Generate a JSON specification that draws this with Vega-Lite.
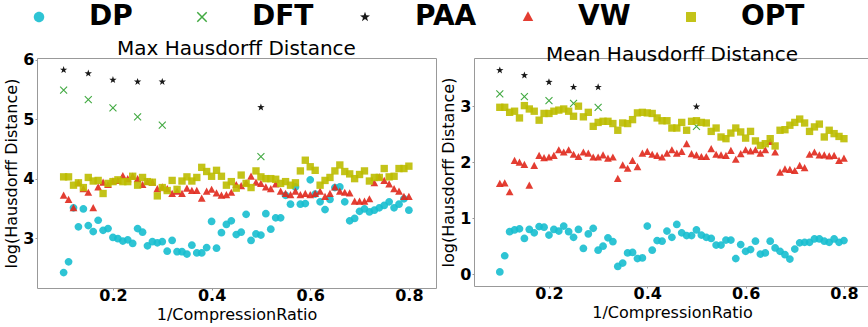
{
  "$schema": "https://vega.github.io/schema/vega-lite/v6.json",
  "padding": {"left": 3, "top": 3, "right": 0, "bottom": 0},
  "config": {
    "font": "DejaVu Sans",
    "view": {"stroke": "#999999"},
    "axis": {"grid": false, "labelFont": "DejaVu Sans", "labelFontSize": 16, "labelFontWeight": "bold", "labelColor": "#000000", "titleFont": "DejaVu Sans", "titleFontSize": 16, "titleFontWeight": "normal", "titleColor": "#000000", "tickColor": "#999999", "tickSize": 2, "labelPadding": 1, "domainColor": "#999999", "titlePadding": 3, "labelFlush": false},
    "axisX": {"labelPadding": -3, "titlePadding": 3},
    "title": {"font": "DejaVu Sans", "fontSize": 20, "fontWeight": "normal", "color": "#000000", "offset": -7}
  },
  "spacing": 3,
  "datasets": {
    "pts": [
      {"p":"max","m":"DP","x":0.10,"y":2.42},{"p":"max","m":"DP","x":0.11,"y":2.60},{"p":"max","m":"DP","x":0.12,"y":3.51},{"p":"max","m":"DP","x":0.13,"y":3.19},{"p":"max","m":"DP","x":0.14,"y":3.49},{"p":"max","m":"DP","x":0.15,"y":3.21},{"p":"max","m":"DP","x":0.16,"y":3.11},{"p":"max","m":"DP","x":0.17,"y":3.30},{"p":"max","m":"DP","x":0.18,"y":3.13},{"p":"max","m":"DP","x":0.19,"y":3.16},
      {"p":"max","m":"DP","x":0.20,"y":3.01},{"p":"max","m":"DP","x":0.21,"y":2.99},{"p":"max","m":"DP","x":0.22,"y":2.95},{"p":"max","m":"DP","x":0.23,"y":2.97},{"p":"max","m":"DP","x":0.24,"y":2.91},{"p":"max","m":"DP","x":0.25,"y":3.16},{"p":"max","m":"DP","x":0.26,"y":3.10},{"p":"max","m":"DP","x":0.27,"y":2.87},{"p":"max","m":"DP","x":0.28,"y":2.94},{"p":"max","m":"DP","x":0.29,"y":2.92},
      {"p":"max","m":"DP","x":0.30,"y":2.94},{"p":"max","m":"DP","x":0.31,"y":2.78},{"p":"max","m":"DP","x":0.32,"y":2.96},{"p":"max","m":"DP","x":0.33,"y":2.77},{"p":"max","m":"DP","x":0.34,"y":2.77},{"p":"max","m":"DP","x":0.35,"y":2.73},{"p":"max","m":"DP","x":0.36,"y":2.88},{"p":"max","m":"DP","x":0.37,"y":2.75},{"p":"max","m":"DP","x":0.38,"y":2.75},{"p":"max","m":"DP","x":0.39,"y":2.84},
      {"p":"max","m":"DP","x":0.40,"y":3.28},{"p":"max","m":"DP","x":0.41,"y":2.83},{"p":"max","m":"DP","x":0.42,"y":3.09},{"p":"max","m":"DP","x":0.43,"y":3.23},{"p":"max","m":"DP","x":0.44,"y":3.29},{"p":"max","m":"DP","x":0.45,"y":3.06},{"p":"max","m":"DP","x":0.46,"y":3.10},{"p":"max","m":"DP","x":0.47,"y":3.40},{"p":"max","m":"DP","x":0.48,"y":2.96},{"p":"max","m":"DP","x":0.49,"y":3.07},
      {"p":"max","m":"DP","x":0.50,"y":3.05},{"p":"max","m":"DP","x":0.51,"y":3.41},{"p":"max","m":"DP","x":0.52,"y":3.15},{"p":"max","m":"DP","x":0.53,"y":3.34},{"p":"max","m":"DP","x":0.54,"y":3.34},{"p":"max","m":"DP","x":0.55,"y":3.72},{"p":"max","m":"DP","x":0.56,"y":3.57},{"p":"max","m":"DP","x":0.57,"y":3.86},{"p":"max","m":"DP","x":0.58,"y":3.57},{"p":"max","m":"DP","x":0.59,"y":3.58},
      {"p":"max","m":"DP","x":0.60,"y":3.98},{"p":"max","m":"DP","x":0.61,"y":3.74},{"p":"max","m":"DP","x":0.62,"y":3.61},{"p":"max","m":"DP","x":0.63,"y":3.48},{"p":"max","m":"DP","x":0.64,"y":3.65},{"p":"max","m":"DP","x":0.65,"y":3.85},{"p":"max","m":"DP","x":0.66,"y":3.86},{"p":"max","m":"DP","x":0.67,"y":3.61},{"p":"max","m":"DP","x":0.68,"y":3.29},{"p":"max","m":"DP","x":0.69,"y":3.33},
      {"p":"max","m":"DP","x":0.70,"y":3.45},{"p":"max","m":"DP","x":0.71,"y":3.49},{"p":"max","m":"DP","x":0.72,"y":3.44},{"p":"max","m":"DP","x":0.73,"y":3.47},{"p":"max","m":"DP","x":0.74,"y":3.51},{"p":"max","m":"DP","x":0.75,"y":3.55},{"p":"max","m":"DP","x":0.76,"y":3.61},{"p":"max","m":"DP","x":0.77,"y":3.51},{"p":"max","m":"DP","x":0.78,"y":3.57},{"p":"max","m":"DP","x":0.79,"y":3.66},{"p":"max","m":"DP","x":0.80,"y":3.47},

      {"p":"mean","m":"DP","x":0.10,"y":0.04},{"p":"mean","m":"DP","x":0.11,"y":0.33},{"p":"mean","m":"DP","x":0.12,"y":0.76},{"p":"mean","m":"DP","x":0.13,"y":0.79},{"p":"mean","m":"DP","x":0.14,"y":0.81},{"p":"mean","m":"DP","x":0.15,"y":0.64},{"p":"mean","m":"DP","x":0.16,"y":0.80},{"p":"mean","m":"DP","x":0.17,"y":0.74},{"p":"mean","m":"DP","x":0.18,"y":0.85},{"p":"mean","m":"DP","x":0.19,"y":0.84},
      {"p":"mean","m":"DP","x":0.20,"y":0.70},{"p":"mean","m":"DP","x":0.21,"y":0.80},{"p":"mean","m":"DP","x":0.22,"y":0.77},{"p":"mean","m":"DP","x":0.23,"y":0.86},{"p":"mean","m":"DP","x":0.24,"y":0.76},{"p":"mean","m":"DP","x":0.25,"y":0.66},{"p":"mean","m":"DP","x":0.26,"y":0.80},{"p":"mean","m":"DP","x":0.27,"y":0.46},{"p":"mean","m":"DP","x":0.28,"y":0.72},{"p":"mean","m":"DP","x":0.29,"y":0.82},
      {"p":"mean","m":"DP","x":0.30,"y":0.43},{"p":"mean","m":"DP","x":0.31,"y":0.50},{"p":"mean","m":"DP","x":0.32,"y":0.65},{"p":"mean","m":"DP","x":0.33,"y":0.58},{"p":"mean","m":"DP","x":0.34,"y":0.14},{"p":"mean","m":"DP","x":0.35,"y":0.20},{"p":"mean","m":"DP","x":0.36,"y":0.38},{"p":"mean","m":"DP","x":0.37,"y":0.39},{"p":"mean","m":"DP","x":0.38,"y":0.28},{"p":"mean","m":"DP","x":0.39,"y":0.29},
      {"p":"mean","m":"DP","x":0.40,"y":0.86},{"p":"mean","m":"DP","x":0.41,"y":0.43},{"p":"mean","m":"DP","x":0.42,"y":0.60},{"p":"mean","m":"DP","x":0.43,"y":0.59},{"p":"mean","m":"DP","x":0.44,"y":0.77},{"p":"mean","m":"DP","x":0.45,"y":0.66},{"p":"mean","m":"DP","x":0.46,"y":0.89},{"p":"mean","m":"DP","x":0.47,"y":0.74},{"p":"mean","m":"DP","x":0.48,"y":0.69},{"p":"mean","m":"DP","x":0.49,"y":0.69},
      {"p":"mean","m":"DP","x":0.50,"y":0.79},{"p":"mean","m":"DP","x":0.51,"y":0.70},{"p":"mean","m":"DP","x":0.52,"y":0.66},{"p":"mean","m":"DP","x":0.53,"y":0.64},{"p":"mean","m":"DP","x":0.54,"y":0.52},{"p":"mean","m":"DP","x":0.55,"y":0.52},{"p":"mean","m":"DP","x":0.56,"y":0.61},{"p":"mean","m":"DP","x":0.57,"y":0.61},{"p":"mean","m":"DP","x":0.58,"y":0.28},{"p":"mean","m":"DP","x":0.59,"y":0.53},
      {"p":"mean","m":"DP","x":0.60,"y":0.41},{"p":"mean","m":"DP","x":0.61,"y":0.44},{"p":"mean","m":"DP","x":0.62,"y":0.59},{"p":"mean","m":"DP","x":0.63,"y":0.36},{"p":"mean","m":"DP","x":0.64,"y":0.38},{"p":"mean","m":"DP","x":0.65,"y":0.59},{"p":"mean","m":"DP","x":0.66,"y":0.47},{"p":"mean","m":"DP","x":0.67,"y":0.41},{"p":"mean","m":"DP","x":0.68,"y":0.35},{"p":"mean","m":"DP","x":0.69,"y":0.27},
      {"p":"mean","m":"DP","x":0.70,"y":0.45},{"p":"mean","m":"DP","x":0.71,"y":0.56},{"p":"mean","m":"DP","x":0.72,"y":0.57},{"p":"mean","m":"DP","x":0.73,"y":0.57},{"p":"mean","m":"DP","x":0.74,"y":0.63},{"p":"mean","m":"DP","x":0.75,"y":0.63},{"p":"mean","m":"DP","x":0.76,"y":0.59},{"p":"mean","m":"DP","x":0.77,"y":0.57},{"p":"mean","m":"DP","x":0.78,"y":0.63},{"p":"mean","m":"DP","x":0.79,"y":0.57},{"p":"mean","m":"DP","x":0.80,"y":0.60},

      {"p":"max","m":"DFT","x":0.10,"y":5.49},{"p":"max","m":"DFT","x":0.15,"y":5.33},{"p":"max","m":"DFT","x":0.20,"y":5.19},{"p":"max","m":"DFT","x":0.25,"y":5.04},{"p":"max","m":"DFT","x":0.30,"y":4.90},{"p":"max","m":"DFT","x":0.50,"y":4.37},
      {"p":"mean","m":"DFT","x":0.10,"y":3.22},{"p":"mean","m":"DFT","x":0.15,"y":3.17},{"p":"mean","m":"DFT","x":0.20,"y":3.10},{"p":"mean","m":"DFT","x":0.25,"y":3.05},{"p":"mean","m":"DFT","x":0.30,"y":2.98},{"p":"mean","m":"DFT","x":0.50,"y":2.64},
      {"p":"max","m":"PAA","x":0.10,"y":5.83},{"p":"max","m":"PAA","x":0.15,"y":5.77},{"p":"max","m":"PAA","x":0.20,"y":5.66},{"p":"max","m":"PAA","x":0.25,"y":5.63},{"p":"max","m":"PAA","x":0.30,"y":5.63},{"p":"max","m":"PAA","x":0.50,"y":5.20},
      {"p":"mean","m":"PAA","x":0.10,"y":3.64},{"p":"mean","m":"PAA","x":0.15,"y":3.55},{"p":"mean","m":"PAA","x":0.20,"y":3.43},{"p":"mean","m":"PAA","x":0.25,"y":3.34},{"p":"mean","m":"PAA","x":0.30,"y":3.34},{"p":"mean","m":"PAA","x":0.50,"y":2.99},

      {"p":"max","m":"VW","x":0.10,"y":3.71},{"p":"max","m":"VW","x":0.11,"y":3.64},{"p":"max","m":"VW","x":0.12,"y":3.50},{"p":"max","m":"VW","x":0.13,"y":3.92},{"p":"max","m":"VW","x":0.14,"y":3.82},{"p":"max","m":"VW","x":0.15,"y":3.76},{"p":"max","m":"VW","x":0.16,"y":3.50},{"p":"max","m":"VW","x":0.17,"y":3.85},{"p":"max","m":"VW","x":0.18,"y":3.93},{"p":"max","m":"VW","x":0.19,"y":3.89},
      {"p":"max","m":"VW","x":0.20,"y":3.95},{"p":"max","m":"VW","x":0.21,"y":3.96},{"p":"max","m":"VW","x":0.22,"y":4.04},{"p":"max","m":"VW","x":0.23,"y":3.99},{"p":"max","m":"VW","x":0.24,"y":4.03},{"p":"max","m":"VW","x":0.25,"y":3.99},{"p":"max","m":"VW","x":0.26,"y":3.89},{"p":"max","m":"VW","x":0.27,"y":3.94},{"p":"max","m":"VW","x":0.28,"y":3.93},{"p":"max","m":"VW","x":0.29,"y":3.82},
      {"p":"max","m":"VW","x":0.30,"y":3.85},{"p":"max","m":"VW","x":0.31,"y":3.82},{"p":"max","m":"VW","x":0.32,"y":3.74},{"p":"max","m":"VW","x":0.33,"y":3.78},{"p":"max","m":"VW","x":0.34,"y":3.74},{"p":"max","m":"VW","x":0.35,"y":3.83},{"p":"max","m":"VW","x":0.36,"y":3.79},{"p":"max","m":"VW","x":0.37,"y":3.79},{"p":"max","m":"VW","x":0.38,"y":3.66},{"p":"max","m":"VW","x":0.39,"y":3.78},
      {"p":"max","m":"VW","x":0.40,"y":3.81},{"p":"max","m":"VW","x":0.41,"y":3.75},{"p":"max","m":"VW","x":0.42,"y":3.71},{"p":"max","m":"VW","x":0.43,"y":3.72},{"p":"max","m":"VW","x":0.44,"y":3.76},{"p":"max","m":"VW","x":0.45,"y":3.89},{"p":"max","m":"VW","x":0.46,"y":3.87},{"p":"max","m":"VW","x":0.47,"y":3.92},{"p":"max","m":"VW","x":0.48,"y":4.03},{"p":"max","m":"VW","x":0.49,"y":3.93},
      {"p":"max","m":"VW","x":0.50,"y":3.91},{"p":"max","m":"VW","x":0.51,"y":3.85},{"p":"max","m":"VW","x":0.52,"y":3.82},{"p":"max","m":"VW","x":0.53,"y":3.90},{"p":"max","m":"VW","x":0.54,"y":3.78},{"p":"max","m":"VW","x":0.55,"y":3.74},{"p":"max","m":"VW","x":0.56,"y":3.72},{"p":"max","m":"VW","x":0.57,"y":3.78},{"p":"max","m":"VW","x":0.58,"y":3.72},{"p":"max","m":"VW","x":0.59,"y":3.74},
      {"p":"max","m":"VW","x":0.60,"y":3.72},{"p":"max","m":"VW","x":0.61,"y":3.74},{"p":"max","m":"VW","x":0.62,"y":3.78},{"p":"max","m":"VW","x":0.63,"y":3.69},{"p":"max","m":"VW","x":0.64,"y":3.74},{"p":"max","m":"VW","x":0.65,"y":3.85},{"p":"max","m":"VW","x":0.66,"y":3.78},{"p":"max","m":"VW","x":0.67,"y":3.76},{"p":"max","m":"VW","x":0.68,"y":3.75},{"p":"max","m":"VW","x":0.69,"y":3.61},
      {"p":"max","m":"VW","x":0.70,"y":3.61},{"p":"max","m":"VW","x":0.71,"y":3.61},{"p":"max","m":"VW","x":0.72,"y":3.65},{"p":"max","m":"VW","x":0.73,"y":3.92},{"p":"max","m":"VW","x":0.74,"y":4.02},{"p":"max","m":"VW","x":0.75,"y":3.96},{"p":"max","m":"VW","x":0.76,"y":3.90},{"p":"max","m":"VW","x":0.77,"y":3.82},{"p":"max","m":"VW","x":0.78,"y":3.78},{"p":"max","m":"VW","x":0.79,"y":3.69},{"p":"max","m":"VW","x":0.80,"y":3.69},

      {"p":"mean","m":"VW","x":0.10,"y":1.61},{"p":"mean","m":"VW","x":0.11,"y":1.62},{"p":"mean","m":"VW","x":0.12,"y":1.46},{"p":"mean","m":"VW","x":0.13,"y":2.02},{"p":"mean","m":"VW","x":0.14,"y":1.99},{"p":"mean","m":"VW","x":0.15,"y":1.95},{"p":"mean","m":"VW","x":0.16,"y":1.58},{"p":"mean","m":"VW","x":0.17,"y":1.93},{"p":"mean","m":"VW","x":0.18,"y":2.11},{"p":"mean","m":"VW","x":0.19,"y":2.07},
      {"p":"mean","m":"VW","x":0.20,"y":2.08},{"p":"mean","m":"VW","x":0.21,"y":2.11},{"p":"mean","m":"VW","x":0.22,"y":2.21},{"p":"mean","m":"VW","x":0.23,"y":2.17},{"p":"mean","m":"VW","x":0.24,"y":2.21},{"p":"mean","m":"VW","x":0.25,"y":2.13},{"p":"mean","m":"VW","x":0.26,"y":2.09},{"p":"mean","m":"VW","x":0.27,"y":2.17},{"p":"mean","m":"VW","x":0.28,"y":2.15},{"p":"mean","m":"VW","x":0.29,"y":2.08},
      {"p":"mean","m":"VW","x":0.30,"y":2.08},{"p":"mean","m":"VW","x":0.31,"y":2.12},{"p":"mean","m":"VW","x":0.32,"y":2.06},{"p":"mean","m":"VW","x":0.33,"y":2.08},{"p":"mean","m":"VW","x":0.34,"y":1.70},{"p":"mean","m":"VW","x":0.35,"y":1.94},{"p":"mean","m":"VW","x":0.36,"y":1.88},{"p":"mean","m":"VW","x":0.37,"y":2.02},{"p":"mean","m":"VW","x":0.38,"y":1.91},{"p":"mean","m":"VW","x":0.39,"y":2.15},
      {"p":"mean","m":"VW","x":0.40,"y":2.18},{"p":"mean","m":"VW","x":0.41,"y":2.13},{"p":"mean","m":"VW","x":0.42,"y":2.11},{"p":"mean","m":"VW","x":0.43,"y":2.08},{"p":"mean","m":"VW","x":0.44,"y":2.15},{"p":"mean","m":"VW","x":0.45,"y":2.21},{"p":"mean","m":"VW","x":0.46,"y":2.15},{"p":"mean","m":"VW","x":0.47,"y":2.18},{"p":"mean","m":"VW","x":0.48,"y":2.32},{"p":"mean","m":"VW","x":0.49,"y":2.14},
      {"p":"mean","m":"VW","x":0.50,"y":2.12},{"p":"mean","m":"VW","x":0.51,"y":2.09},{"p":"mean","m":"VW","x":0.52,"y":2.09},{"p":"mean","m":"VW","x":0.53,"y":2.23},{"p":"mean","m":"VW","x":0.54,"y":2.13},{"p":"mean","m":"VW","x":0.55,"y":2.12},{"p":"mean","m":"VW","x":0.56,"y":2.11},{"p":"mean","m":"VW","x":0.57,"y":2.20},{"p":"mean","m":"VW","x":0.58,"y":2.04},{"p":"mean","m":"VW","x":0.59,"y":2.14},
      {"p":"mean","m":"VW","x":0.60,"y":2.21},{"p":"mean","m":"VW","x":0.61,"y":2.19},{"p":"mean","m":"VW","x":0.62,"y":2.21},{"p":"mean","m":"VW","x":0.63,"y":2.15},{"p":"mean","m":"VW","x":0.64,"y":2.21},{"p":"mean","m":"VW","x":0.65,"y":2.36},{"p":"mean","m":"VW","x":0.66,"y":2.17},{"p":"mean","m":"VW","x":0.67,"y":1.81},{"p":"mean","m":"VW","x":0.68,"y":1.87},{"p":"mean","m":"VW","x":0.69,"y":1.86},
      {"p":"mean","m":"VW","x":0.70,"y":1.84},{"p":"mean","m":"VW","x":0.71,"y":1.93},{"p":"mean","m":"VW","x":0.72,"y":1.89},{"p":"mean","m":"VW","x":0.73,"y":2.13},{"p":"mean","m":"VW","x":0.74,"y":2.17},{"p":"mean","m":"VW","x":0.75,"y":2.12},{"p":"mean","m":"VW","x":0.76,"y":2.12},{"p":"mean","m":"VW","x":0.77,"y":2.10},{"p":"mean","m":"VW","x":0.78,"y":2.11},{"p":"mean","m":"VW","x":0.79,"y":2.02},{"p":"mean","m":"VW","x":0.80,"y":2.06},

      {"p":"max","m":"OPT","x":0.10,"y":4.03},{"p":"max","m":"OPT","x":0.11,"y":4.03},{"p":"max","m":"OPT","x":0.12,"y":3.89},{"p":"max","m":"OPT","x":0.13,"y":3.93},{"p":"max","m":"OPT","x":0.14,"y":3.85},{"p":"max","m":"OPT","x":0.15,"y":4.02},{"p":"max","m":"OPT","x":0.16,"y":3.96},{"p":"max","m":"OPT","x":0.17,"y":3.97},{"p":"max","m":"OPT","x":0.18,"y":3.75},{"p":"max","m":"OPT","x":0.19,"y":3.92},
      {"p":"max","m":"OPT","x":0.20,"y":3.95},{"p":"max","m":"OPT","x":0.21,"y":3.98},{"p":"max","m":"OPT","x":0.22,"y":3.95},{"p":"max","m":"OPT","x":0.23,"y":3.95},{"p":"max","m":"OPT","x":0.24,"y":4.04},{"p":"max","m":"OPT","x":0.25,"y":3.89},{"p":"max","m":"OPT","x":0.26,"y":4.02},{"p":"max","m":"OPT","x":0.27,"y":3.95},{"p":"max","m":"OPT","x":0.28,"y":3.94},{"p":"max","m":"OPT","x":0.29,"y":3.71},
      {"p":"max","m":"OPT","x":0.30,"y":3.85},{"p":"max","m":"OPT","x":0.31,"y":3.80},{"p":"max","m":"OPT","x":0.32,"y":3.97},{"p":"max","m":"OPT","x":0.33,"y":3.82},{"p":"max","m":"OPT","x":0.34,"y":3.96},{"p":"max","m":"OPT","x":0.35,"y":4.03},{"p":"max","m":"OPT","x":0.36,"y":3.96},{"p":"max","m":"OPT","x":0.37,"y":4.02},{"p":"max","m":"OPT","x":0.38,"y":4.19},{"p":"max","m":"OPT","x":0.39,"y":4.12},
      {"p":"max","m":"OPT","x":0.40,"y":4.04},{"p":"max","m":"OPT","x":0.41,"y":4.14},{"p":"max","m":"OPT","x":0.42,"y":4.04},{"p":"max","m":"OPT","x":0.43,"y":3.89},{"p":"max","m":"OPT","x":0.44,"y":3.95},{"p":"max","m":"OPT","x":0.45,"y":3.84},{"p":"max","m":"OPT","x":0.46,"y":4.06},{"p":"max","m":"OPT","x":0.47,"y":3.92},{"p":"max","m":"OPT","x":0.48,"y":3.85},{"p":"max","m":"OPT","x":0.49,"y":4.13},
      {"p":"max","m":"OPT","x":0.50,"y":4.03},{"p":"max","m":"OPT","x":0.51,"y":4.00},{"p":"max","m":"OPT","x":0.52,"y":4.00},{"p":"max","m":"OPT","x":0.53,"y":3.99},{"p":"max","m":"OPT","x":0.54,"y":3.92},{"p":"max","m":"OPT","x":0.55,"y":3.95},{"p":"max","m":"OPT","x":0.56,"y":3.89},{"p":"max","m":"OPT","x":0.57,"y":3.93},{"p":"max","m":"OPT","x":0.58,"y":4.13},{"p":"max","m":"OPT","x":0.59,"y":4.31},
      {"p":"max","m":"OPT","x":0.60,"y":4.20},{"p":"max","m":"OPT","x":0.61,"y":4.14},{"p":"max","m":"OPT","x":0.62,"y":3.89},{"p":"max","m":"OPT","x":0.63,"y":3.97},{"p":"max","m":"OPT","x":0.64,"y":4.02},{"p":"max","m":"OPT","x":0.65,"y":4.13},{"p":"max","m":"OPT","x":0.66,"y":4.23},{"p":"max","m":"OPT","x":0.67,"y":4.12},{"p":"max","m":"OPT","x":0.68,"y":4.08},{"p":"max","m":"OPT","x":0.69,"y":4.00},
      {"p":"max","m":"OPT","x":0.70,"y":4.07},{"p":"max","m":"OPT","x":0.71,"y":4.13},{"p":"max","m":"OPT","x":0.72,"y":3.96},{"p":"max","m":"OPT","x":0.73,"y":4.02},{"p":"max","m":"OPT","x":0.74,"y":4.02},{"p":"max","m":"OPT","x":0.75,"y":4.17},{"p":"max","m":"OPT","x":0.76,"y":4.03},{"p":"max","m":"OPT","x":0.77,"y":4.04},{"p":"max","m":"OPT","x":0.78,"y":4.17},{"p":"max","m":"OPT","x":0.79,"y":4.17},{"p":"max","m":"OPT","x":0.80,"y":4.21},

      {"p":"mean","m":"OPT","x":0.10,"y":2.98},{"p":"mean","m":"OPT","x":0.11,"y":2.98},{"p":"mean","m":"OPT","x":0.12,"y":2.89},{"p":"mean","m":"OPT","x":0.13,"y":2.91},{"p":"mean","m":"OPT","x":0.14,"y":2.79},{"p":"mean","m":"OPT","x":0.15,"y":3.01},{"p":"mean","m":"OPT","x":0.16,"y":2.95},{"p":"mean","m":"OPT","x":0.17,"y":2.91},{"p":"mean","m":"OPT","x":0.18,"y":2.75},{"p":"mean","m":"OPT","x":0.19,"y":2.87},
      {"p":"mean","m":"OPT","x":0.20,"y":2.87},{"p":"mean","m":"OPT","x":0.21,"y":2.91},{"p":"mean","m":"OPT","x":0.22,"y":2.93},{"p":"mean","m":"OPT","x":0.23,"y":2.95},{"p":"mean","m":"OPT","x":0.24,"y":2.91},{"p":"mean","m":"OPT","x":0.25,"y":2.82},{"p":"mean","m":"OPT","x":0.26,"y":3.00},{"p":"mean","m":"OPT","x":0.27,"y":2.81},{"p":"mean","m":"OPT","x":0.28,"y":2.89},{"p":"mean","m":"OPT","x":0.29,"y":2.64},
      {"p":"mean","m":"OPT","x":0.30,"y":2.71},{"p":"mean","m":"OPT","x":0.31,"y":2.73},{"p":"mean","m":"OPT","x":0.32,"y":2.73},{"p":"mean","m":"OPT","x":0.33,"y":2.69},{"p":"mean","m":"OPT","x":0.34,"y":2.57},{"p":"mean","m":"OPT","x":0.35,"y":2.70},{"p":"mean","m":"OPT","x":0.36,"y":2.69},{"p":"mean","m":"OPT","x":0.37,"y":2.76},{"p":"mean","m":"OPT","x":0.38,"y":2.88},{"p":"mean","m":"OPT","x":0.39,"y":2.89},
      {"p":"mean","m":"OPT","x":0.40,"y":2.88},{"p":"mean","m":"OPT","x":0.41,"y":2.87},{"p":"mean","m":"OPT","x":0.42,"y":2.79},{"p":"mean","m":"OPT","x":0.43,"y":2.74},{"p":"mean","m":"OPT","x":0.44,"y":2.74},{"p":"mean","m":"OPT","x":0.45,"y":2.61},{"p":"mean","m":"OPT","x":0.46,"y":2.61},{"p":"mean","m":"OPT","x":0.47,"y":2.71},{"p":"mean","m":"OPT","x":0.48,"y":2.57},{"p":"mean","m":"OPT","x":0.49,"y":2.73},
      {"p":"mean","m":"OPT","x":0.50,"y":2.74},{"p":"mean","m":"OPT","x":0.51,"y":2.71},{"p":"mean","m":"OPT","x":0.52,"y":2.70},{"p":"mean","m":"OPT","x":0.53,"y":2.55},{"p":"mean","m":"OPT","x":0.54,"y":2.61},{"p":"mean","m":"OPT","x":0.55,"y":2.45},{"p":"mean","m":"OPT","x":0.56,"y":2.42},{"p":"mean","m":"OPT","x":0.57,"y":2.52},{"p":"mean","m":"OPT","x":0.58,"y":2.61},{"p":"mean","m":"OPT","x":0.59,"y":2.54},
      {"p":"mean","m":"OPT","x":0.60,"y":2.43},{"p":"mean","m":"OPT","x":0.61,"y":2.55},{"p":"mean","m":"OPT","x":0.62,"y":2.38},{"p":"mean","m":"OPT","x":0.63,"y":2.30},{"p":"mean","m":"OPT","x":0.64,"y":2.33},{"p":"mean","m":"OPT","x":0.65,"y":2.42},{"p":"mean","m":"OPT","x":0.66,"y":2.29},{"p":"mean","m":"OPT","x":0.67,"y":2.57},{"p":"mean","m":"OPT","x":0.68,"y":2.58},{"p":"mean","m":"OPT","x":0.69,"y":2.66},
      {"p":"mean","m":"OPT","x":0.70,"y":2.71},{"p":"mean","m":"OPT","x":0.71,"y":2.77},{"p":"mean","m":"OPT","x":0.72,"y":2.70},{"p":"mean","m":"OPT","x":0.73,"y":2.55},{"p":"mean","m":"OPT","x":0.74,"y":2.63},{"p":"mean","m":"OPT","x":0.75,"y":2.68},{"p":"mean","m":"OPT","x":0.76,"y":2.45},{"p":"mean","m":"OPT","x":0.77,"y":2.57},{"p":"mean","m":"OPT","x":0.78,"y":2.51},{"p":"mean","m":"OPT","x":0.79,"y":2.46},{"p":"mean","m":"OPT","x":0.80,"y":2.42}
    ]
  },
  "data": {"name": "pts"},
  "resolve": {"scale": {"x": "independent", "y": "independent", "color": "shared", "shape": "shared"}, "legend": {"color": "shared", "shape": "shared"}},
  "hconcat": [
    {
      "title": "Max Hausdorff Distance",
      "width": 399,
      "height": 230,
      "transform": [{"filter": "datum.p == 'max'"}],
      "mark": {"type": "point", "filled": true, "size": 60, "opacity": 0.9},
      "encoding": {
        "x": {"field": "x", "type": "quantitative", "scale": {"domain": [0.046, 0.855], "nice": false, "zero": false}, "axis": {"values": [0.2, 0.4, 0.6, 0.8], "format": ".1f", "title": "1/CompressionRatio", "domain": false}},
        "y": {"field": "y", "type": "quantitative", "scale": {"domain": [2.16, 6.03], "nice": false, "zero": false}, "axis": {"values": [3, 4, 5, 6], "format": "d", "title": "log(Hausdorff Distance)", "domain": false}},
        "color": {"field": "m", "type": "nominal", "sort": null,
          "scale": {"domain": ["DP", "DFT", "PAA", "VW", "OPT"], "range": ["#17becf", "#2ca02c", "#000000", "#e0281c", "#bcbd00"]},
          "legend": {"title": null, "orient": "none", "legendX": -12, "legendY": -55, "direction": "horizontal", "columns": 5, "gridAlign": "all", "labelFont": "DejaVu Sans", "labelFontSize": 28, "labelFontWeight": "bold", "labelColor": "#000000", "labelOffset": 36, "columnPadding": 35, "symbolSize": 110, "padding": 0}},
        "shape": {"field": "m", "type": "nominal", "sort": null,
          "scale": {"domain": ["DP", "DFT", "PAA", "VW", "OPT"], "range": ["M-1,0A1,1,0,1,0,1,0A1,1,0,1,0,-1,0Z", "M-1,-0.8L-0.8,-1L1,0.8L0.8,1Z M1,-0.8L-0.8,1L-1,0.8L0.8,-1Z", "M0,-1L0.235,-0.324L0.951,-0.309L0.38,0.124L0.588,0.809L0,0.4L-0.588,0.809L-0.38,0.124L-0.951,-0.309L-0.235,-0.324Z", "M0,-1.1L1,0.75L-1,0.75Z", "M-0.95,-0.95H0.95V0.95H-0.95Z"]},
          "legend": {"title": null, "orient": "none", "legendX": -12, "legendY": -55, "direction": "horizontal", "columns": 5, "gridAlign": "all", "labelFont": "DejaVu Sans", "labelFontSize": 28, "labelFontWeight": "bold", "labelColor": "#000000", "labelOffset": 36, "columnPadding": 35, "symbolSize": 110, "padding": 0}}
      }
    },
    {
      "title": "Mean Hausdorff Distance",
      "width": 396,
      "height": 228,
      "view": {"stroke": null},
      "transform": [{"filter": "datum.p == 'mean'"}],
      "layer": [
        {
          "mark": {"type": "point", "filled": true, "size": 60, "opacity": 0.9},
          "encoding": {
            "x": {"field": "x", "type": "quantitative", "scale": {"domain": [0.0475, 0.853], "nice": false, "zero": false}, "axis": {"values": [0.2, 0.4, 0.6, 0.8], "format": ".1f", "title": "1/CompressionRatio", "domain": true}},
            "y": {"field": "y", "type": "quantitative", "scale": {"domain": [-0.21, 3.86], "nice": false, "zero": false}, "axis": {"values": [0, 1, 2, 3], "format": "d", "title": "log(Hausdorff Distance)", "domain": true}},
            "color": {"field": "m", "type": "nominal", "sort": null, "scale": {"domain": ["DP", "DFT", "PAA", "VW", "OPT"], "range": ["#17becf", "#2ca02c", "#000000", "#e0281c", "#bcbd00"]}},
            "shape": {"field": "m", "type": "nominal", "sort": null, "scale": {"domain": ["DP", "DFT", "PAA", "VW", "OPT"], "range": ["M-1,0A1,1,0,1,0,1,0A1,1,0,1,0,-1,0Z", "M-1,-0.8L-0.8,-1L1,0.8L0.8,1Z M1,-0.8L-0.8,1L-1,0.8L0.8,-1Z", "M0,-1L0.235,-0.324L0.951,-0.309L0.38,0.124L0.588,0.809L0,0.4L-0.588,0.809L-0.38,0.124L-0.951,-0.309L-0.235,-0.324Z", "M0,-1.1L1,0.75L-1,0.75Z", "M-0.95,-0.95H0.95V0.95H-0.95Z"]}}
          }
        },
        {
          "mark": {"type": "point", "opacity": 0},
          "encoding": {
            "x": {"field": "x", "type": "quantitative", "axis": {"orient": "top", "labels": false, "ticks": false, "title": null, "domain": true, "values": []}}
          }
        }
      ],
      "resolve": {"axis": {"x": "independent"}}
    }
  ]
}
